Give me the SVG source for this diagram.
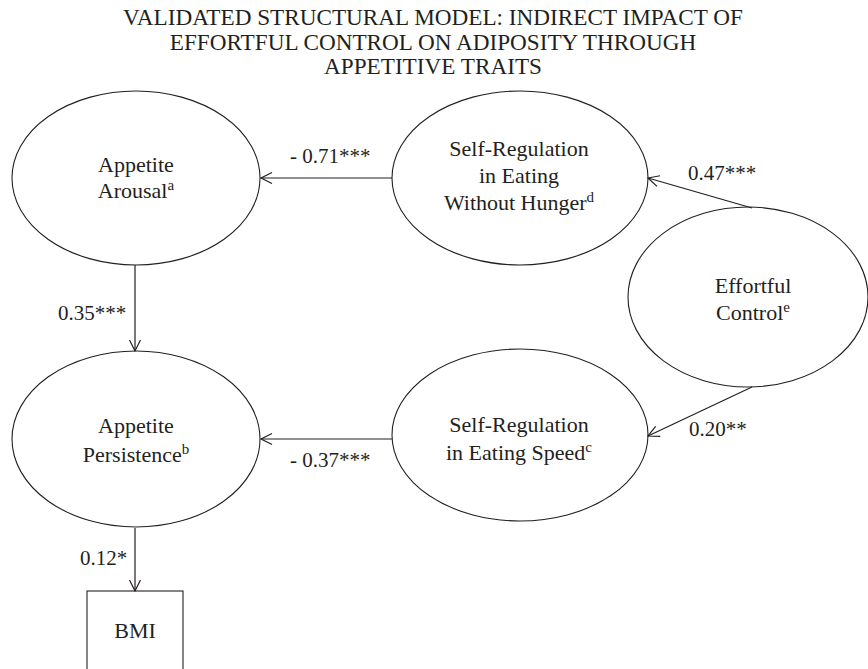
<svg xmlns="http://www.w3.org/2000/svg" width="868" height="669" viewBox="0 0 868 669">
<style>
text{fill:#231f20;}
.t{font-size:23.2px;text-anchor:middle;}
.n{font-size:22px;text-anchor:middle;}
.l{font-size:21px;}
.s{font-size:15px;}
.node{fill:none;stroke:#231f20;stroke-width:1.1;}
.c{stroke:#231f20;stroke-width:1.2;fill:none;}
</style>
<defs>
<marker id="ah" markerUnits="userSpaceOnUse" markerWidth="14" markerHeight="14" viewBox="0 0 14 14" refX="12" refY="7" orient="auto">
<path d="M1,1.5 L12,7 L1,12.5" fill="none" stroke="#231f20" stroke-width="1.2"/>
</marker>
</defs>
<rect width="868" height="669" fill="#fff"/>
<g font-family="Liberation Serif, Times New Roman, DejaVu Serif, serif">
<g id="title">
<text class="t" x="433" y="25">VALIDATED STRUCTURAL MODEL: INDIRECT IMPACT OF</text>
<text class="t" x="433" y="50">EFFORTFUL CONTROL ON ADIPOSITY THROUGH</text>
<text class="t" x="433" y="74">APPETITIVE TRAITS</text>
</g>
<g id="connectors">
<line class="c" x1="392" y1="178" x2="261" y2="178" marker-end="url(#ah)"/>
<line class="c" x1="135" y1="265" x2="135" y2="351" marker-end="url(#ah)"/>
<line class="c" x1="392" y1="439" x2="261" y2="439" marker-end="url(#ah)"/>
<line class="c" x1="752" y1="208" x2="648" y2="178" marker-end="url(#ah)"/>
<line class="c" x1="752" y1="387" x2="648" y2="436" marker-end="url(#ah)"/>
<line class="c" x1="135" y1="528" x2="135" y2="591" marker-end="url(#ah)"/>
<text class="l" x="290" y="163">- 0.71***</text>
<text class="l" x="688" y="180">0.47***</text>
<text class="l" x="58" y="320">0.35***</text>
<text class="l" x="290" y="467">- 0.37***</text>
<text class="l" x="689" y="436">0.20**</text>
<text class="l" x="80" y="565">0.12*</text>
</g>
<g id="appetite-arousal">
<ellipse class="node" cx="136" cy="178" rx="124" ry="87"/>
<text class="n" x="136" y="172">Appetite</text>
<text class="n" x="136" y="198">Arousal<tspan class="s" dy="-8">a</tspan></text>
</g>
<g id="sr-hunger">
<ellipse class="node" cx="520" cy="178" rx="128" ry="87"/>
<text class="n" x="519" y="156">Self-Regulation</text>
<text class="n" x="519" y="183">in Eating</text>
<text class="n" x="519" y="210">Without Hunger<tspan class="s" dy="-8">d</tspan></text>
</g>
<g id="effortful-control">
<ellipse class="node" cx="748" cy="297" rx="120" ry="90"/>
<text class="n" x="753" y="293">Effortful</text>
<text class="n" x="753" y="320">Control<tspan class="s" dy="-8">e</tspan></text>
</g>
<g id="sr-speed">
<ellipse class="node" cx="520" cy="435" rx="128" ry="86"/>
<text class="n" x="519" y="432">Self-Regulation</text>
<text class="n" x="519" y="460">in Eating Speed<tspan class="s" dy="-8">c</tspan></text>
</g>
<g id="appetite-persistence">
<ellipse class="node" cx="136" cy="439" rx="124" ry="88"/>
<text class="n" x="136" y="433">Appetite</text>
<text class="n" x="136" y="462">Persistence<tspan class="s" dy="-8">b</tspan></text>
</g>
<g id="bmi">
<rect class="node" x="87" y="591" width="96" height="90"/>
<text class="n" x="135" y="638">BMI</text>
</g>
</g>
</svg>
